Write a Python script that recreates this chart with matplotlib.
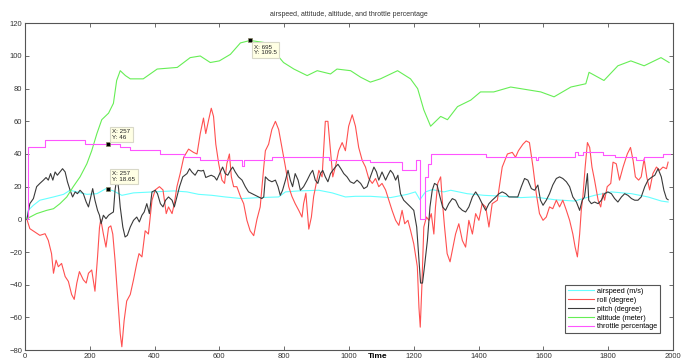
import matplotlib
matplotlib.use("Agg")
import matplotlib.pyplot as plt

plt.rcParams["font.family"] = ["Liberation Sans", "DejaVu Sans"]

# airspeed (m/s)
airspeed_t = [6, 10, 26, 46, 67, 88, 119, 139, 160, 191, 222, 250, 273, 299, 335, 397, 459, 500,
              536, 577, 618, 670, 721, 783, 804, 845, 907, 948, 989, 1020, 1066, 1128, 1180, 1205,
              1219, 1236, 1257, 1293, 1314, 1365, 1417, 1478, 1530, 1573, 1635, 1696, 1758, 1810,
              1872, 1923, 1964, 1985]
airspeed_v = [0, 5.5, 8.6, 11.7, 12.7, 13.7, 15.3, 17.8, 16.8, 15.3, 15.7, 18.8, 17.4, 14.7, 16.2,
              16.8, 17.4, 16.8, 15.3, 14.7, 13.7, 12.7, 13.3, 13.7, 16.8, 17.4, 17.8, 16.2, 13.7,
              14.1, 14.1, 13.3, 15.3, 16.8, 12.0, 16.8, 18.2, 16.8, 17.8, 15.7, 14.7, 14.1, 13.3,
              13.7, 12.0, 11.2, 14.7, 16.8, 15.7, 13.7, 11.2, 10.6]

# roll (degree)
roll_t = [6, 15, 31, 46, 62, 72, 82, 88, 96, 103, 113, 124, 134, 144, 152, 160, 168, 180, 189, 196,
          206, 216, 224, 230, 234, 242, 250, 258, 265, 271, 278, 287, 294, 299, 306, 314, 325, 335,
          345, 352, 361, 371, 381, 392, 402, 415, 426, 436, 443, 454, 461, 469, 479, 490, 505,
          520, 531, 541, 551, 558, 567, 575, 582, 589, 598, 608, 616, 623, 631, 637, 644, 654,
          665, 675, 685, 695, 706, 716, 726, 737, 742, 752, 762, 773, 783, 793, 804, 814, 824,
          834, 845, 855, 860, 867, 876, 884, 891, 901, 907, 917, 927, 935, 943, 950, 958, 968,
          979, 989, 999, 1010, 1020, 1030, 1041, 1051, 1061, 1072, 1082, 1092, 1102, 1113, 1123,
          1133, 1144, 1154, 1164, 1172, 1182, 1190, 1200, 1211, 1216, 1220, 1225, 1231, 1239,
          1247, 1254, 1262, 1267, 1274, 1283, 1288, 1295, 1303, 1312, 1319, 1329, 1339, 1350,
          1360, 1370, 1381, 1391, 1401, 1411, 1422, 1432, 1442, 1458, 1473, 1489, 1504, 1514,
          1523, 1537, 1547, 1557, 1568, 1578, 1588, 1599, 1609, 1619, 1629, 1640, 1650, 1660,
          1671, 1681, 1691, 1698, 1705, 1712, 1717, 1722, 1729, 1736, 1743, 1750, 1758, 1769,
          1777, 1784, 1789, 1797, 1808, 1815, 1825, 1835, 1846, 1859, 1869, 1877, 1884, 1894,
          1902, 1911, 1919, 1928, 1938, 1949, 1959, 1969, 1980, 1985]
roll_v = [0, -5.7, -7.8, -9.8, -8.8, -12.9, -21, -33, -25, -29, -27, -35, -38, -46, -49, -39, -32,
          -37, -39, -33, -31, -44, -23, -5, 0, -9, -17, -5, -4, -9, -25, -50, -70, -78, -62, -50,
          -46, -37, -27, -21, -23, -7, -9, 11.6, 18, 20, 18, 3.5, 7.6, 3.5, 9.6, 20, 28, 38, 43,
          41, 40, 52.5, 62, 52.5, 61, 68, 63, 46, 34, 24, 22, 34, 40, 26, 20, 20, 14, 9.6, -0.6,
          -7, -10, 0, 7.6, 32, 42, 46, 55, 60, 55, 44, 32, 20, 14, 9.6, 5.5, 1.4, 9.6, 16, -6,
          1.4, 14, 24, 30, 26, 60, 60, 42, 26, 32, 42, 47, 42, 57, 64, 57, 44, 36, 32, 25, 22,
          25, 20, 22, 18, 11.7, 5.5, -0.6, -3.7, 5.5, -2.7, -0.6, -6.7, -15, -29, -54, -66, -41,
          -4.7, 1.4, -0.6, 3.5, -9, 7.6, 22, 26, 11.7, -4.7, -21, -26, -19, -9, -2.7, -13, -17,
          -0.6, -9, 3.5, -0.6, 9.6, 7.6, -4.7, 9.6, 11.7, 32, 40, 41, 38, 42, 46, 48, 47, 32, 16,
          3.5, -0.6, 1.4, 7.6, 6.5, 11.7, 7.6, 11.7, 5.5, -0.6, -9, -17, -23, -9, 5.5, 14, 32,
          47, 44, 32, 24, 11.7, 7.6, 16, 11.7, 20, 22, 35, 34, 24, 32, 40, 44, 36, 26, 24, 26,
          37, 26, 18, 28, 32, 30, 32, 31, 35]

# pitch (degree)
pitch_t = [6, 15, 26, 36, 46, 57, 65, 72, 79, 86, 93, 100, 108, 116, 124, 131, 139, 147, 155, 162,
           170, 180, 189, 196, 203, 209, 216, 224, 230, 235, 242, 250, 258, 265, 273, 278, 284,
           289, 294, 302, 309, 316, 325, 335, 345, 353, 361, 368, 376, 384, 392, 402, 409, 418,
           426, 434, 443, 454, 461, 469, 477, 487, 500, 508, 515, 525, 534, 544, 551, 558, 567,
           575, 585, 592, 603, 610, 618, 626, 634, 641, 649, 659, 670, 680, 690, 701, 711, 721,
           731, 737, 742, 752, 762, 773, 781, 788, 795, 804, 812, 819, 826, 834, 843, 850, 860,
           871, 881, 888, 896, 904, 912, 919, 927, 935, 943, 950, 958, 966, 975, 984, 994, 1004,
           1015, 1025, 1036, 1046, 1056, 1066, 1077, 1085, 1092, 1102, 1113, 1120, 1128, 1136,
           1144, 1151, 1159, 1169, 1180, 1190, 1200, 1209, 1216, 1221, 1227, 1233, 1242, 1250,
           1257, 1264, 1272, 1281, 1289, 1298, 1308, 1319, 1329, 1339, 1350, 1360, 1370, 1381,
           1391, 1401, 1411, 1422, 1432, 1442, 1453, 1463, 1473, 1484, 1494, 1509, 1521, 1532,
           1542, 1552, 1563, 1573, 1583, 1591, 1599, 1609, 1619, 1629, 1640, 1650, 1660, 1671,
           1681, 1691, 1702, 1712, 1720, 1727, 1736, 1740, 1748, 1758, 1769, 1779, 1789, 1799,
           1810, 1820, 1830, 1841, 1851, 1861, 1872, 1882, 1892, 1902, 1913, 1923, 1933, 1944,
           1954, 1964, 1972, 1980, 1985]
pitch_v = [0, 9.6, 12.7, 20, 22, 24, 25.6, 24, 28, 24, 29, 27, 29, 31, 29, 23, 18, 13.7, 16.8,
           15.7, 17.8, 15.7, 10.6, 7.6, 13.7, 18.8, 11.7, 5.5, 2.5, -2.7, 2.5, 0.4, 2.5, 3.5,
           4.5, 17.8, 26, 18.8, 7.6, -4.7, -10.8, -9.8, -4.7, -0.6, 1.4, -1.6, 2.5, 4.5, 9.6,
           3.5, 16.8, 17.8, 15.7, 9.6, 7.6, 11.7, 13.7, 11.7, 7.6, 13.7, 20, 26, 28, 31, 29, 27,
           30, 29.6, 30, 25.6, 26.4, 27, 26, 24, 29, 32, 28, 27, 30, 32, 29, 26, 24, 20, 16.8,
           15.7, 14.7, 13.7, 12.7, 13.7, 26, 24, 23, 24, 20, 14.7, 17.8, 24, 30, 24, 20, 28, 24,
           17.8, 20, 24, 28, 30, 24, 22, 28, 30, 26, 23, 28, 30, 32, 33.7, 31, 28, 26, 23, 22,
           24, 22, 18.8, 20, 26, 32, 29, 24, 29, 24, 27, 30, 28, 24, 27, 15.7, 11.7, 9.6, 7.6,
           5.5, -4.7, -25, -39, -39, -29, -13, 7.6, 17.8, 22, 21, 13.7, 7.6, 5.5, 9.6, 12.7, 11.7,
           7.6, 5.5, 4.5, 7.6, 13.7, 16.8, 13.7, 9.6, 5.5, 9.6, 11.7, 13.7, 15.7, 16.8, 15.7,
           13.7, 13.7, 13.7, 20, 25, 24, 18.8, 17.8, 21, 11.7, 8.6, 11.7, 15.7, 21, 25, 26, 25,
           23, 20, 13.7, 10.6, 5.5, 11.7, 13.7, 28, 11.7, 9.6, 10.6, 9.6, 11.7, 15.7, 16.8, 15.7,
           12.7, 10.6, 13.7, 15.7, 14.7, 12.7, 11.7, 11.7, 13.7, 20, 24, 25.6, 27, 31, 26, 17.8,
           12.7, 12]

# altitude (meter)
altitude_t = [6, 36, 67, 88, 108, 129, 149, 170, 191, 206, 222, 237, 258, 273, 283, 294, 310, 325,
              365, 408, 470, 510, 541, 572, 600, 634, 665, 695, 747, 798, 830, 871, 902, 943, 963,
              1005, 1036, 1066, 1097, 1150, 1190, 1212, 1231, 1252, 1283, 1304, 1335, 1376, 1406,
              1447, 1499, 1561, 1592, 1633, 1685, 1731, 1741, 1787, 1830, 1870, 1911, 1963, 1988]
altitude_v = [0.4, 3.5, 5.5, 6.5, 9.6, 13.7, 20, 26, 34, 42, 52.5, 61, 65, 71, 85, 91, 88, 86, 86,
              92, 93, 99, 100, 96, 97, 101, 108, 109.5, 108, 96, 92, 88, 91, 89, 92, 91, 87, 84,
              86, 91, 86, 80, 67, 57, 63, 61, 69, 73, 78, 78, 81, 79, 78, 75, 81, 83, 90, 85, 94,
              97, 94, 99, 96]

# throttle percentage (step changes)
throttle_t = [6, 8, 10, 62, 186, 292, 325, 418, 490, 541, 670, 677, 762, 938, 1066, 1164, 1206,
              1219, 1235, 1244, 1252, 1422, 1578, 1584, 1697, 1707, 1722, 1784, 1820, 1887, 1910,
              1970, 1990]
throttle_v = [0, 30, 44.4, 48.3, 46.4, 44.4, 42.3, 40.3, 38.2, 36.2, 32.5, 36.2, 38.2, 36.2, 34.8,
              30, 36.2, 0, 26, 34, 40.3, 38.3, 36.5, 38.3, 41, 39.5, 41, 39.5, 38.2, 36.4, 38.2,
              40.3, 40.3]

# data tips shown on the chart
tips = [(695, 109.5, "X: 695\nY: 109.5", (3, -3), "top"),
        (257, 46, "X: 257\nY: 46", (3, 3), "bottom"),
        (257, 18.65, "X: 257\nY: 18.65", (3, 5), "bottom")]

fig = plt.figure(figsize=(6.86, 3.62), dpi=100)
ax = fig.add_axes([0.0364, 0.0331, 0.9446, 0.9025])

lw = 0.8
ax.plot(airspeed_t, airspeed_v, color="#66ffff", lw=lw, label="airspeed (m/s)")
ax.plot(roll_t, roll_v, color="#ff5050", lw=lw, label="roll (degree)")
ax.plot(pitch_t, pitch_v, color="#3a3a3a", lw=lw, label="pitch (degree)")
ax.plot(altitude_t, altitude_v, color="#66ee55", lw=lw, label="altitude (meter)")
ax.plot(throttle_t, throttle_v, color="#ff55ff", lw=lw, drawstyle="steps-post",
        label="throttle percentage")

for tx, ty, txt, off, va in tips:
    ax.plot([tx], [ty], marker="s", color="black", markersize=3.5, markeredgecolor="#888866",
            markeredgewidth=0.5, zorder=5)
    ax.annotate(txt, (tx, ty), xytext=off, textcoords="offset points", fontsize=4.5,
                ha="left", va=va, color="#222222", zorder=6,
                bbox=dict(boxstyle="square,pad=0.35", facecolor="#ffffe4", edgecolor="#d8d8c8",
                          linewidth=0.8))

ax.set_xlim(0, 2000)
ax.set_ylim(-80, 120)
ax.set_xticks(range(0, 2001, 200))
ax.set_yticks(range(-80, 121, 20))
ax.tick_params(direction="in", length=3, width=0.6, top=True, right=True,
               labelsize=5.5, labelcolor="#333333", color="#555555", pad=2)
for s in ax.spines.values():
    s.set_color("#555555")
    s.set_linewidth(0.8)

ax.set_title("airspeed, attitude, altitude, and throttle percentage", fontsize=5,
             color="#333333", pad=5)
ax.set_xlabel("Time", fontsize=6, fontweight="bold")
ax.xaxis.set_label_coords(0.545, -0.008)
ax.xaxis.label.set_va("top")

leg = ax.legend(loc="lower right", bbox_to_anchor=(0.986, 0.040), fontsize=5.2, fancybox=False,
                framealpha=1, edgecolor="#555555", handlelength=3.5, labelspacing=0.25,
                borderpad=0.4, handletextpad=0.5)
leg.get_frame().set_linewidth(0.8)

fig.savefig("out.png", dpi=100)
